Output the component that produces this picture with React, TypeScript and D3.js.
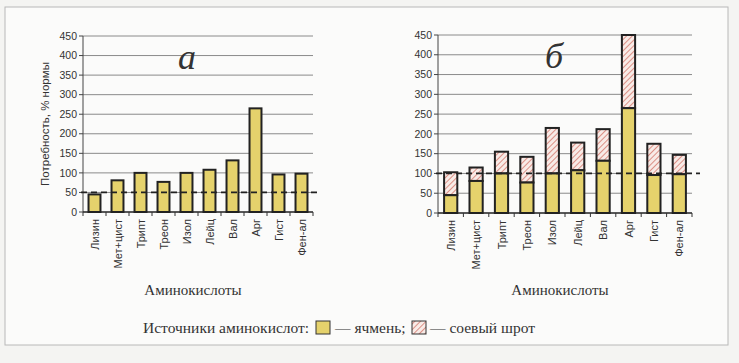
import React from 'react';
import * as d3 from 'd3';

// amino acids (x categories)
const categories = ['Лизин', 'Мет+цист', 'Трипт', 'Треон', 'Изол', 'Лейц', 'Вал', 'Арг', 'Гист', 'Фен-ал'];
// % of norm covered by barley
const barley = [45, 81, 100, 77, 100, 108, 132, 265, 96, 98];
// additional % of norm from soybean meal (stacked on barley, chart б)
const soy = [58, 34, 55, 65, 115, 70, 80, 185, 79, 49];
const yTicks = [0, 50, 100, 150, 200, 250, 300, 350, 400, 450];

const W = 739;
const H = 363;
const sans = "'Liberation Sans', Arial, sans-serif";
const serif = "'Liberation Serif', 'DejaVu Serif', serif";

type PanelProps = {
  left: number; right: number; top: number; bottom: number;
  letter: string; norm: number; stacked: boolean; yTitle?: boolean;
};

function Panel({ left, right, top, bottom, letter, norm, stacked, yTitle }: PanelProps) {
  const x = d3.scaleBand().domain(categories).range([left, right]).paddingInner(0.48).paddingOuter(0.24);
  const y = d3.scaleLinear().domain([0, 450]).range([bottom, top]);
  const step = x.step();
  return (
    <g>
      {yTicks.map(t => (
        <g key={t}>
          {t > 0 && <line x1={left} x2={right} y1={y(t)} y2={y(t)} stroke="#8a8a8a" strokeWidth={1} />}
          <line x1={left - 4} x2={left} y1={y(t)} y2={y(t)} stroke="#444" />
          <text x={left - 6} y={y(t)} dy="0.35em" textAnchor="end" fontFamily={sans} fontSize={10.5} fill="#333">{t}</text>
        </g>
      ))}
      <line x1={left} x2={left} y1={top} y2={bottom} stroke="#444" />
      <line x1={left} x2={right} y1={bottom} y2={bottom} stroke="#222" strokeWidth={1.5} />
      {d3.range(categories.length + 1).map(i => (
        <line key={i} x1={left + i * step} x2={left + i * step} y1={bottom} y2={bottom + 4} stroke="#333" />
      ))}
      {categories.map((c, i) => (
        <g key={c}>
          {stacked && (
            <rect x={x(c)} y={y(barley[i] + soy[i])} width={x.bandwidth()} height={y(barley[i]) - y(barley[i] + soy[i])}
              fill="url(#hatch)" stroke="#222" strokeWidth={2} />
          )}
          <rect x={x(c)} y={y(barley[i])} width={x.bandwidth()} height={bottom - y(barley[i])}
            fill="#e5d26c" stroke="#222" strokeWidth={2} />
          <text transform={`translate(${(x(c) as number) + x.bandwidth() / 2 + 4},${bottom + 7}) rotate(-90)`}
            textAnchor="end" fontFamily={sans} fontSize={11} fill="#333">{c}</text>
        </g>
      ))}
      <line x1={left - 2} x2={right + 8} y1={y(norm)} y2={y(norm)} stroke="#222" strokeWidth={1.8} strokeDasharray="6,4" />
      <text x={(left + right) / 2 - 20} y={top + 33} fontFamily={serif} fontStyle="italic" fontSize={36} fill="#333">{letter}</text>
      {yTitle && (
        <text transform={`translate(${left - 34},${(top + bottom) / 2}) rotate(-90)`} textAnchor="middle"
          fontFamily={sans} fontSize={11.5} fill="#333">Потребность, % нормы</text>
      )}
      <text x={(left + right) / 2 - 5} y={295} textAnchor="middle" fontFamily={serif} fontSize={15} fill="#333">Аминокислоты</text>
    </g>
  );
}

export default function App() {
  return (
    <svg width={W} height={H} style={{ position: 'absolute', left: 0, top: 0 }}>
      <defs>
        <pattern id="hatch" patternUnits="userSpaceOnUse" width={4} height={4} patternTransform="rotate(45)">
          <rect width={4} height={4} fill="#f8ebe7" />
          <line x1={0} y1={0} x2={0} y2={4} stroke="#d27166" strokeWidth={1.5} />
        </pattern>
      </defs>
      <rect width={W} height={H} fill="#f4f4f2" />
      <rect x={5} y={7} width={723} height={338} fill="#fbfbfa" stroke="#b8b8b8" />
      <Panel left={83} right={313} top={36} bottom={212} letter="а" norm={50} stacked={false} yTitle />
      <Panel left={438} right={692} top={35} bottom={213} letter="б" norm={100} stacked />
      <g fontFamily={serif} fontSize={15.5} fill="#333">
        <text x={143} y={333}>Источники аминокислот:</text>
        <rect x={316} y={321} width={14} height={13} fill="#e5d26c" stroke="#333" />
        <text x={335} y={333}>— ячмень;</text>
        <rect x={412} y={321} width={14} height={13} fill="url(#hatch)" stroke="#333" />
        <text x={430} y={333}>— соевый шрот</text>
      </g>
    </svg>
  );
}
